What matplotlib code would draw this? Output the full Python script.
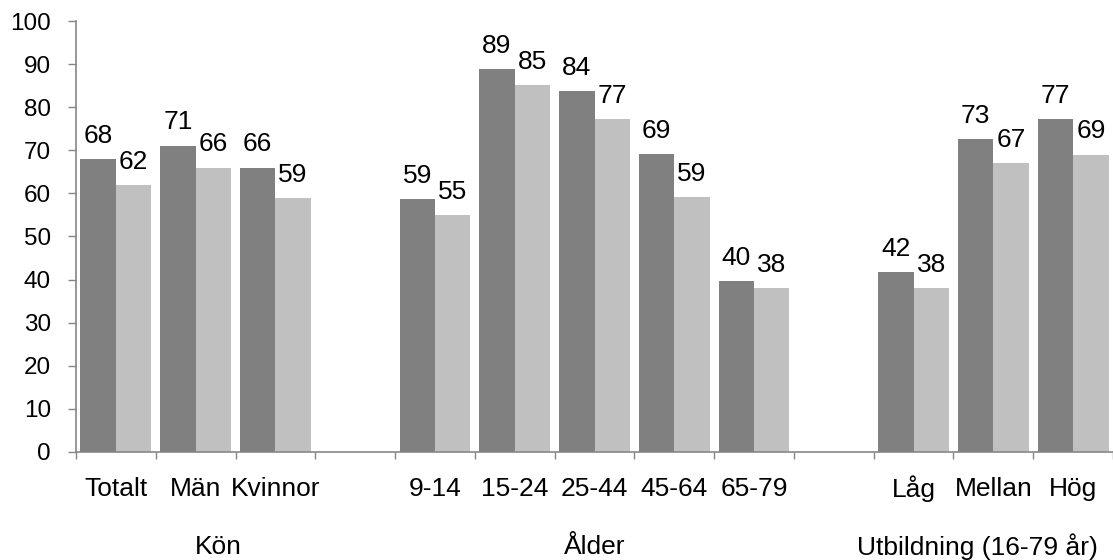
import matplotlib.pyplot as plt
import numpy as np

plt.rcParams['font.family'] = ['Liberation Sans', 'DejaVu Sans']

# data
grupper = ['Kön', 'Ålder', 'Utbildning (16-79 år)']
kategorier = [['Totalt', 'Män', 'Kvinnor'],
              ['9-14', '15-24', '25-44', '45-64', '65-79'],
              ['Låg', 'Mellan', 'Hög']]
serie_mork = [68, 71.1, 66, 58.7, 88.8, 83.7, 69.2, 39.6, 41.8, 72.6, 77.3]
serie_ljus = [62, 66, 59, 55, 85.1, 77.2, 59.2, 38, 38, 67, 69]
yticks = list(range(0, 101, 10))

# positioner: en tom plats mellan grupperna
pos = []
p = 0
for kat in kategorier:
    for k in kat:
        pos.append(p)
        p += 1
    p += 1
pos = np.array(pos)
etiketter = [k for kat in kategorier for k in kat]

fig = plt.figure(figsize=(11.13, 5.6), dpi=100)
ax = fig.add_axes([76 / 1113, 1 - 452 / 560, 1037 / 1113, 431 / 560])

w = 0.444
off = 0.222
ax.bar(pos - off, serie_mork, width=w, color='#808080')
ax.bar(pos + off, serie_ljus, width=w, color='#c0c0c0')

for x, v in zip(pos - off, serie_mork):
    ax.annotate(f'{v:.0f}', (x, v), xytext=(0, 8), textcoords='offset points',
                ha='center', va='bottom', fontsize=19)
for x, v in zip(pos + off, serie_ljus):
    ax.annotate(f'{v:.0f}', (x, v), xytext=(0, 8), textcoords='offset points',
                ha='center', va='bottom', fontsize=19)

ax.set_ylim(0, 100)
ax.set_xlim(-0.5, -0.5 + 1037 / 80)
ax.set_yticks(yticks)
ax.tick_params(axis='y', labelsize=17.5, length=6, width=1, color='#868686', pad=12)

ax.set_xticks(np.arange(-0.5, 13, 1))
ax.set_xticklabels([])
ax.tick_params(axis='x', length=5, width=1, color='#868686')

for x, t in zip(pos, etiketter):
    ax.text(x, -0.085, t, transform=ax.get_xaxis_transform(), ha='center', va='center', fontsize=19)

grupp_x = [1.29, 6.0, 10.8]
for x, g in zip(grupp_x, grupper):
    ax.text(x, -0.22, g, transform=ax.get_xaxis_transform(), ha='center', va='center', fontsize=19)

for s in ['top', 'right']:
    ax.spines[s].set_visible(False)
for s in ['left', 'bottom']:
    ax.spines[s].set_color('#868686')
    ax.spines[s].set_linewidth(1.2)

fig.savefig('out.png', dpi=100)
